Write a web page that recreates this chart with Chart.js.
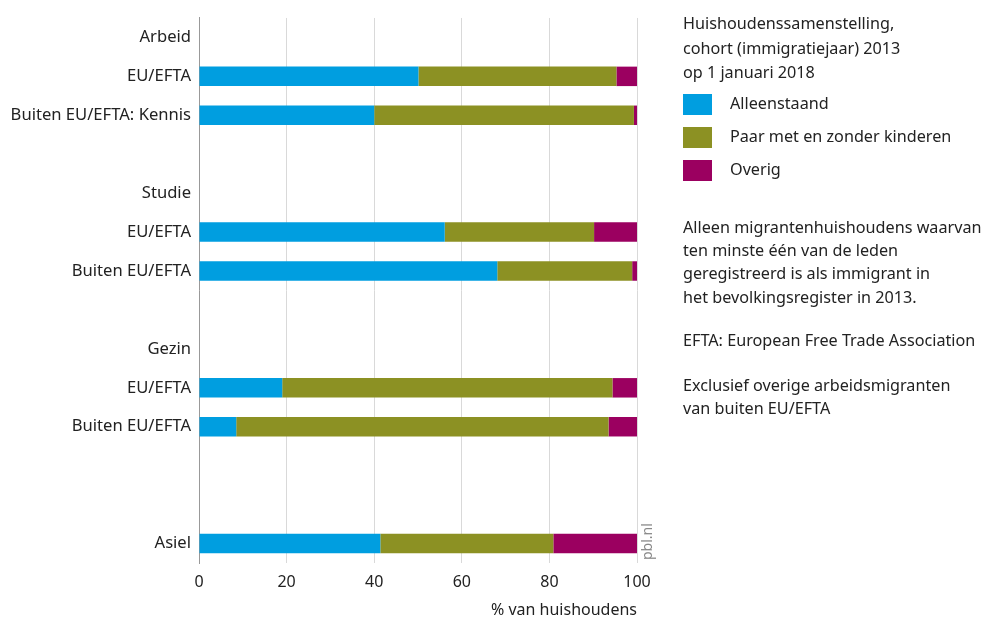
<!DOCTYPE html>
<html>
<head>
<meta charset="utf-8">
<script src="https://cdn.jsdelivr.net/npm/chart.js@4"></script>
<style>
  body { margin: 0; background: #fff; font-family: "Noto Sans", sans-serif; color: #222; }
  #wrap { position: relative; width: 984px; height: 621px; }
  #notes { position: absolute; left: 683px; top: 10px; width: 301px; font-size: 16.2px; line-height: 23.4px; }
  .leg { display: flex; align-items: center; height: 33px; }
  .leg span.box { display: inline-block; width: 29px; height: 21px; margin-right: 18px; }
  #pbl { position: absolute; left: 637px; top: 560px; transform: rotate(-90deg); transform-origin: left top; font-size: 14px; color: #888; }
</style>
</head>
<body>
<div id="wrap">
  <canvas id="c" width="984" height="621"></canvas>
  <div id="notes">
    <div style="line-height:24.5px; margin-top:1px">Huishoudenssamenstelling,<br>cohort (immigratiejaar) 2013<br>op 1 januari 2018</div>
    <div id="legend" style="margin-top:3px"></div>
    <div style="margin-top:29px">Alleen migrantenhuishoudens waarvan<br>ten minste één van de leden<br>geregistreerd is als immigrant in<br>het bevolkingsregister in 2013.</div>
    <div style="margin-top:20px">EFTA: European Free Trade Association</div>
    <div style="margin-top:21px">Exclusief overige arbeidsmigranten<br>van buiten EU/EFTA</div>
  </div>
  <div id="pbl">pbl.nl</div>
</div>
<script>
const categories = ['Arbeid', 'EU/EFTA', 'Buiten EU/EFTA: Kennis', '', 'Studie', 'EU/EFTA', 'Buiten EU/EFTA', '', 'Gezin', 'EU/EFTA', 'Buiten EU/EFTA', '', '', 'Asiel']
const alleenstaand = [null, 50.1, 40.0, null, null, 56.1, 68.1, null, null, 19.0, 8.5, null, null, 41.4]
const paar = [null, 45.2, 59.3, null, null, 34.1, 30.8, null, null, 75.4, 85.0, null, null, 39.5]
const overig = [null, 4.7, 0.7, null, null, 9.8, 1.1, null, null, 5.6, 6.5, null, null, 19.1]
const xTicks = [0, 20, 40, 60, 80, 100]

const datasets = [
    {label: 'Alleenstaand', data: alleenstaand, backgroundColor: '#009EE0'},
    {label: 'Paar met en zonder kinderen', data: paar, backgroundColor: '#8C9123'},
    {label: 'Overig', data: overig, backgroundColor: '#9B0060'},
]

// legend as html, colours taken from the datasets
document.getElementById('legend').innerHTML = datasets.map(d =>
    '<div class="leg"><span class="box" style="background:' + d.backgroundColor + '"></span>' + d.label + '</div>'
).join('')

Chart.defaults.font.family = '"Noto Sans", sans-serif'
Chart.defaults.font.size = 16
Chart.defaults.color = '#222'

new Chart(document.getElementById('c'), {
    type: 'bar',
    data: {labels: categories, datasets: datasets.map(d => ({...d, borderWidth: 0, barPercentage: 1, categoryPercentage: 0.5}))},
    options: {
        indexAxis: 'y',
        responsive: false,
        animation: false,
        layout: {padding: {top: 13, right: 347, left: 0, bottom: 0}},
        plugins: {legend: {display: false}, tooltip: {enabled: false}},
        scales: {
            x: {
                stacked: true, min: 0, max: 100,
                afterBuildTicks: s => { s.ticks = xTicks.map(v => ({value: v})) },
                afterFit: s => { s.height = 58 },
                grid: {color: '#d9d9d9', drawTicks: false},
                border: {display: false},
                ticks: {padding: 10},
                title: {display: true, text: '% van huishoudens', align: 'end', padding: {top: 0, bottom: 1}}
            },
            y: {
                stacked: true,
                afterFit: s => { s.width = 199 },
                grid: {display: false, drawTicks: false},
                border: {display: true, color: '#999'},
                ticks: {padding: 8, autoSkip: false, font: {size: 16.6}}
            }
        }
    }
})
</script>
</body>
</html>
